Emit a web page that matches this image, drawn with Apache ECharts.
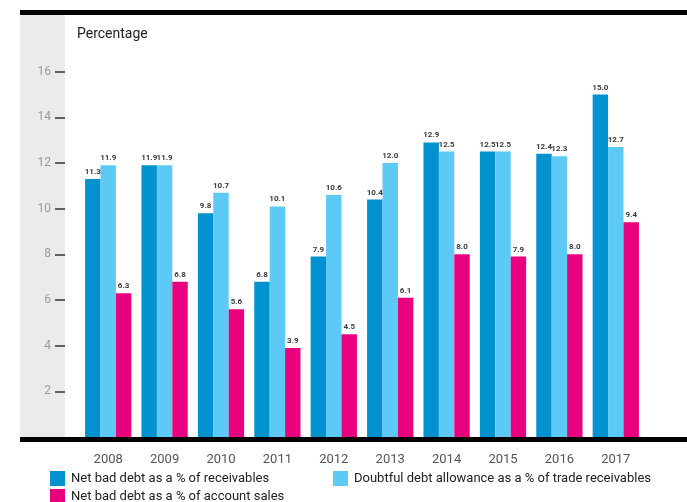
<!DOCTYPE html>
<html>
<head>
<meta charset="utf-8">
<script src="https://cdn.jsdelivr.net/npm/echarts@6/dist/echarts.min.js"></script>
<style>
  html, body { margin: 0; padding: 0; background: #fff; }
  #chart { width: 687px; height: 502px; }
</style>
</head>
<body>
<div id="chart"></div>
<script>
// Bad debt indicators by year (percent)
const years = ['2008', '2009', '2010', '2011', '2012', '2013', '2014', '2015', '2016', '2017'];
const netBadDebtReceivables = [11.3, 11.9, 9.8, 6.8, 7.9, 10.4, 12.9, 12.5, 12.4, 15.0];
const doubtfulAllowance = [11.9, 11.9, 10.7, 10.1, 10.6, 12.0, 12.5, 12.5, 12.3, 12.7];
const netBadDebtSales = [6.3, 6.8, 5.6, 3.9, 4.5, 6.1, 8.0, 7.9, 8.0, 9.4];
const yTicks = [2, 4, 6, 8, 10, 12, 14, 16];

const seriesNames = [
  'Net bad debt as a % of receivables',
  'Doubtful debt allowance as a % of trade receivables',
  'Net bad debt as a % of account sales'
];
const colors = ['#0091cf', '#5dc9f5', '#e8007e'];
const narrow = 'Roboto, "Liberation Sans Narrow", sans-serif';

const barLabel = {
  show: true,
  position: 'top',
  distance: 3,
  fontFamily: narrow,
  fontWeight: 'bold',
  fontSize: 8,
  color: '#3a3a3a',
  formatter: p => p.value.toFixed(1)
};

function barSeries(name, data, color) {
  return {
    name, type: 'bar', data,
    barGap: '0%', barCategoryGap: '18%',
    itemStyle: { color },
    label: barLabel,
    z: 3
  };
}

const legendBase = {
  icon: 'rect', itemWidth: 15, itemHeight: 15, itemGap: 6,
  textStyle: { fontFamily: narrow, fontSize: 13, color: '#222', padding: [1, 0, 0, 1] },
  padding: 0
};

const chart = echarts.init(document.getElementById('chart'), null, { renderer: 'canvas' });
chart.setOption({
  animation: false,
  grid: { left: 80, right: 43, top: 26, bottom: 65, containLabel: false },
  graphic: [
    { type: 'rect', shape: { x: 20, y: 13, width: 45, height: 425 }, style: { fill: '#ebebeb' }, z: -10, silent: true },
    { type: 'rect', shape: { x: 20, y: 10, width: 667, height: 5 }, style: { fill: '#000' }, z: 10, silent: true },
    { type: 'rect', shape: { x: 20, y: 437, width: 667, height: 5 }, style: { fill: '#000' }, z: 10, silent: true },
    { type: 'text', left: 77, top: 27, style: { text: 'Percentage', fontFamily: narrow, fontSize: 14, fill: '#222' }, z: 10 }
  ],
  legend: [
    Object.assign({ data: [seriesNames[0]], left: 50, top: 471 }, legendBase),
    Object.assign({ data: [seriesNames[1]], left: 333, top: 471 }, legendBase),
    Object.assign({ data: [seriesNames[2]], left: 50, top: 489 }, legendBase)
  ],
  xAxis: {
    type: 'category',
    data: years,
    axisLine: { show: false },
    axisTick: { show: false },
    axisLabel: { fontFamily: narrow, fontSize: 13, color: '#555', margin: 16 }
  },
  yAxis: {
    type: 'value',
    min: 0, max: 18, interval: 2,
    offset: 15,
    splitLine: { show: false },
    axisLine: { show: false },
    axisTick: { show: true, length: 10, lineStyle: { color: '#333', width: 1.5 },
      customValues: yTicks },
    axisLabel: { fontFamily: narrow, fontSize: 12, color: '#9a9a9a', margin: 14,
      customValues: yTicks }
  },
  series: [
    barSeries(seriesNames[0], netBadDebtReceivables, colors[0]),
    barSeries(seriesNames[1], doubtfulAllowance, colors[1]),
    barSeries(seriesNames[2], netBadDebtSales, colors[2])
  ]
});
</script>
</body>
</html>
